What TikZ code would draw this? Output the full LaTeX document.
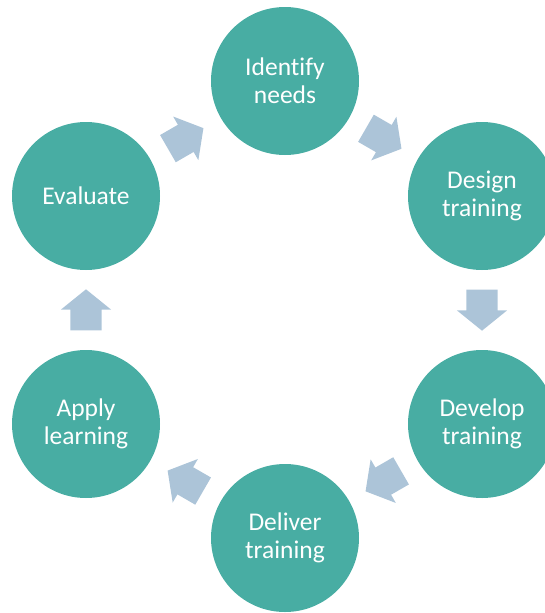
\documentclass[tikz,border=0pt]{standalone}
\usepackage{fontspec}
\setmainfont[Ligatures=NoCommon]{Carlito}
\usetikzlibrary{calc,shapes.arrows}

\definecolor{stepteal}{RGB}{72,173,163}
\definecolor{arrowblue}{RGB}{172,196,216}

\tikzset{
	stepcircle/.style={circle,fill=stepteal,draw=none,minimum size=148pt,inner sep=0pt,
		text=white,align=center,font=\fontsize{25.5}{28}\selectfont},
	blockarrow/.style={single arrow,fill=arrowblue,draw=none,inner xsep=0pt,inner ysep=15.5pt,
		minimum height=41pt,single arrow head extend=9.5pt,
		single arrow tip angle=102,anchor=tail}
}

\begin{document}
\begin{tikzpicture}[x=1pt,y=1pt]
	\useasboundingbox (0,0) rectangle (545,-613);
	\node[stepcircle] (identify) at (285,-81) {Identify\\needs};
	\node[stepcircle] (design) at (482,-196) {Design\\training};
	\node[stepcircle] (develop) at (482,-424) {Develop\\training};
	\node[stepcircle] (deliver) at (285,-538) {Deliver\\training};
	\node[stepcircle] (apply) at (86,-424) {Apply\\learning};
	\node[stepcircle] (evaluate) at (86,-196) {Evaluate};
	\node[blockarrow,rotate=-30] (a1) at ($(identify)!0.5!(design)!20.5pt!(identify)$) {};
	\node[blockarrow,rotate=-90] (a2) at ($(design)!0.5!(develop)!20.5pt!(design)$) {};
	\node[blockarrow,rotate=-150] (a3) at ($(develop)!0.5!(deliver)!20.5pt!(develop)$) {};
	\node[blockarrow,rotate=150] (a4) at ($(deliver)!0.5!(apply)!20.5pt!(deliver)$) {};
	\node[blockarrow,rotate=90] (a5) at ($(apply)!0.5!(evaluate)!20.5pt!(apply)$) {};
	\node[blockarrow,rotate=30] (a6) at ($(evaluate)!0.5!(identify)!20.5pt!(evaluate)$) {};
\end{tikzpicture}
\end{document}
